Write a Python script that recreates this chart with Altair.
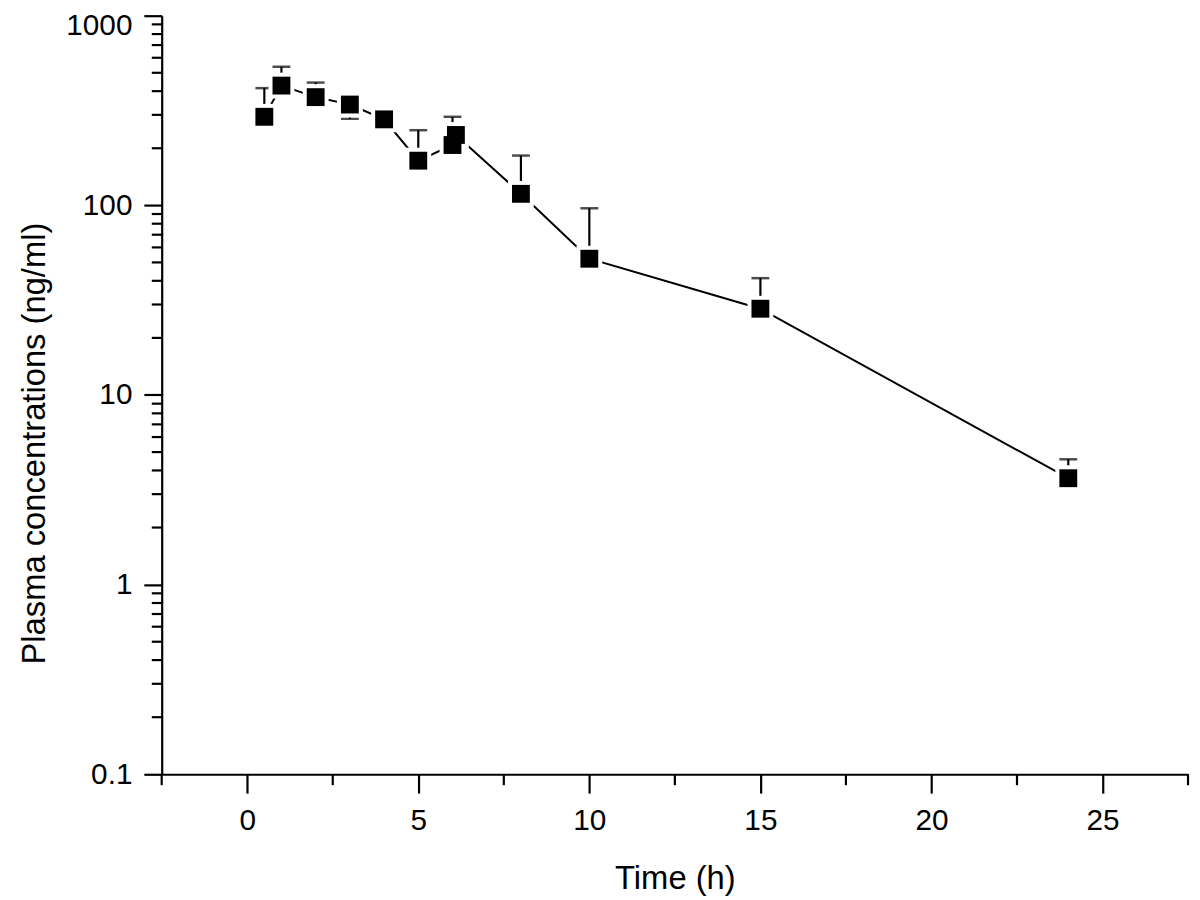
import altair as alt
import pandas as pd

# Data
times = [0.5, 1, 2, 3, 4, 5, 6, 6.1, 8, 10, 15, 24]
conc = [293, 428, 372, 340, 284, 172, 208, 235, 115, 52.3, 28.5, 3.64]
err_lo = [293, 428, 372, 286, 284, 172, 208, 235, 115, 52.3, 28.5, 3.64]
err_hi = [415, 538, 444, 340, 284, 249, 293, 235, 183, 96.5, 41.3, 4.58]

# Axis ticks
x_major = [0, 5, 10, 15, 20, 25]
x_minor = [-2.5, 2.5, 7.5, 12.5, 17.5, 22.5, 27.5]
y_major = [0.1, 1, 10, 100, 1000]
y_minor = [0.2, 0.3, 0.4, 0.5, 0.6, 0.7, 0.8, 0.9,
           2, 3, 4, 5, 6, 7, 8, 9,
           20, 30, 40, 50, 60, 70, 80, 90,
           200, 300, 400, 500, 600, 700, 800, 900]

W, H = 1035, 765

df = pd.DataFrame({"t": times, "c": conc, "lo": err_lo, "hi": err_hi})
xminor_df = pd.DataFrame({"v": x_minor})
yminor_df = pd.DataFrame({"v": y_minor})

FONT = "Liberation Sans"

x_axis = alt.Axis(
    title="Time (h)",
    values=x_major,
    format="d",
    tickSize=19,
    labelPadding=13,
    titleY=115,
    titleBaseline="alphabetic",
    grid=False,
)
y_axis = alt.Axis(
    title="Plasma concentrations (ng/ml)",
    values=y_major,
    labelExpr="format(datum.value, '~g')",
    labelOffset={"condition": {"test": "datum.value >= 1000", "value": 10}, "value": 0},
    tickSize=18,
    labelPadding=12,
    titleX=-128,
    titleY=431,
    titleBaseline="middle",
    titleAlign="center",
    grid=False,
)

xs = alt.Scale(domain=[-2.5, 27.5], nice=False, zero=False)
ys = alt.Scale(type="log", domain=[0.1, 1000], nice=False)

base = alt.Chart(df)

line = base.mark_line(color="black", strokeWidth=2).encode(
    x=alt.X("t:Q", scale=xs, axis=x_axis),
    y=alt.Y("c:Q", scale=ys, axis=y_axis),
)
stems = base.mark_rule(color="black", strokeWidth=2.2).encode(
    x="t:Q", y="lo:Q", y2="hi:Q"
)
caps_hi = base.mark_tick(color="black", orient="horizontal", size=18, thickness=2.5).encode(
    x="t:Q", y="hi:Q"
)
caps_lo = base.mark_tick(color="black", orient="horizontal", size=18, thickness=2.5).encode(
    x="t:Q", y="lo:Q"
)
halo = base.mark_point(shape="square", filled=True, color="white", size=680, opacity=1).encode(
    x="t:Q", y="c:Q"
)
pts = base.mark_point(shape="square", filled=True, color="black", size=324, opacity=1).encode(
    x="t:Q", y="c:Q"
)

x_minor_ticks = alt.Chart(xminor_df).mark_rule(color="black", strokeWidth=2.2).encode(
    x=alt.X("v:Q", scale=xs),
    y=alt.value(H),
    y2=alt.value(H + 11),
)
y_minor_ticks = alt.Chart(yminor_df).mark_rule(color="black", strokeWidth=2.2).encode(
    y=alt.Y("v:Q", scale=ys),
    x=alt.value(0),
    x2=alt.value(-10),
)

chart = alt.layer(
    line, stems, caps_hi, caps_lo, halo, pts, x_minor_ticks, y_minor_ticks
).properties(
    width=W,
    height=H,
    background="white",
    autosize=alt.AutoSizeParams(type="none"),
    padding={"left": 155, "top": 4, "right": 4, "bottom": 120},
).configure_view(stroke=None).configure_axis(
    domainColor="black",
    domainWidth=2.2,
    tickColor="black",
    tickWidth=2.2,
    labelFont=FONT,
    labelFontSize=30,
    labelColor="black",
    titleFont=FONT,
    titleFontSize=33,
    titleFontWeight="normal",
    titleColor="black",
)

chart.save("out.html", embed_options={"renderer": "svg", "actions": False})
